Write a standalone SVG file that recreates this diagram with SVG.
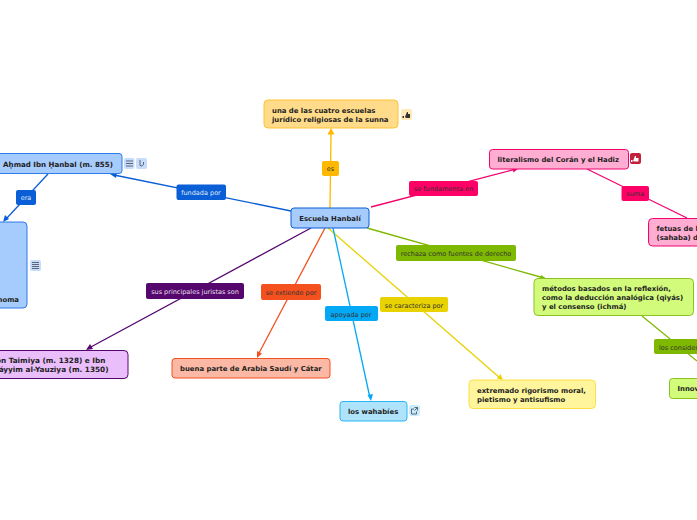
<svg xmlns="http://www.w3.org/2000/svg" width="697" height="520" viewBox="0 0 697 520">
<style>
text{font-family:"DejaVu Sans",Verdana,sans-serif}
.n{font-size:6.9px;font-weight:bold;fill:#222}
.j{font-size:7.3px}
.l{font-size:6.5px;fill:#333}
.w{fill:#fff;opacity:.85}
.c{fill:none;stroke-width:1.3}
.b{stroke-width:1}
.i{fill:none;stroke:#445;stroke-width:.8}
</style>
<rect width="697" height="520" fill="#fff"/>
<g id="connectors">
<path class="c" stroke="#FFB800" d="M330 208L331 132"/><path fill="#FFB800" d="M331 128l3.500 6.500h-7z"/>
<path class="c" stroke="#0B5FD6" d="M291 211L114 175"/><path fill="#0B5FD6" d="M110 174l7-2-1 6z"/>
<path class="c" stroke="#0B5FD6" d="M48 174L6 219"/><path fill="#0B5FD6" d="M3 222l2-7 4 4z"/>
<path class="c" stroke="#F0056E" d="M371 207L516 169"/><path fill="#F0056E" d="M519 168l-7-1 1.500 5.500z"/>
<path class="c" stroke="#F0056E" d="M587 169L687 218"/>
<path class="c" stroke="#7FB800" d="M367 228L544 278"/><path fill="#7FB800" d="M547 279l-6-4-1.500 5.500z"/>
<path class="c" stroke="#7FB800" d="M642 316L697 361"/>
<path class="c" stroke="#E8D200" d="M328 228L500 378"/><path fill="#E8D200" d="M503 380l-6-1.500 3.500-4.500z"/>
<path class="c" stroke="#03A9F4" d="M333 228L370 398"/><path fill="#03A9F4" d="M371 401l-3.500-6 5.500-1z"/>
<path class="c" stroke="#F4511E" d="M325 228L258 355"/><path fill="#F4511E" d="M257 358l0-7 5 2.500z"/>
<path class="c" stroke="#55076E" d="M311 228L89 348"/><path fill="#55076E" d="M86 350l4-6 3 5z"/>
</g>
<g id="root"><rect class="b" x="291" y="208" width="78" height="20" rx="3" fill="#A6CBFD" stroke="#0B5FD6"/><text class="n" x="330" y="220.500" text-anchor="middle">Escuela Hanbalí</text></g>
<g id="sunna"><rect class="b" x="264" y="100" width="134" height="28" rx="4" fill="#FFDB8A" stroke="#FFC233"/><text class="n" x="272" y="112.500">una de las cuatro escuelas</text><text class="n" x="272" y="122">jurídico religiosas de la sunna</text>
<rect x="401" y="109" width="11" height="11" rx="2" fill="#FFE9B5"/><path fill="#333" d="M405 117l2-5 1 0 0 2 2 0 0 4-4 0zM402.500 116l1.500 0 0 2-1.500 0z"/></g>
<g id="ahmad"><rect class="b" x="-20" y="153.500" width="142" height="20" rx="3" fill="#A6CBFD" stroke="#2F7BE8"/><text class="n" x="113" y="167" text-anchor="end" style="font-size:7.1px">Aḥmad Ibn Ḥanbal (m. 855)</text>
<rect x="124" y="158" width="10.500" height="11" rx="2" fill="#C6DCFB"/><path class="i" d="M126 161h7M126 163.500h7M126 166h7"/>
<rect x="136" y="158" width="11" height="11" rx="2" fill="#C6DCFB"/><path class="i" d="M140 160v5.500q2 1.500 3.500-1v-2.500"/></g>
<g id="mahoma"><rect class="b" x="-20" y="222" width="47" height="86" rx="4" fill="#A6CBFD" stroke="#2F7BE8"/><text class="n" x="19" y="301.500" text-anchor="end">noma</text>
<rect x="30" y="260" width="11" height="11" rx="2" fill="#C6DCFB"/><path class="i" d="M32 262.500h7M32 264.500h7M32 266.500h7M32 268.500h7"/></g>
<g id="juristas"><rect class="b" x="-40" y="350.500" width="168" height="28" rx="4" fill="#EABDFB" stroke="#55076E"/><text class="n j" x="105.500" y="363" text-anchor="end">Ibn Taimiya (m. 1328) e Ibn</text><text class="n j" x="108.500" y="372" text-anchor="end">Qáyyim al-Yauziya (m. 1350)</text></g>
<g id="arabia"><rect class="b" x="172" y="358.500" width="158" height="19.500" rx="3" fill="#FBB9A5" stroke="#F4511E"/><text class="n" x="180" y="371">buena parte de Arabia Saudí y Cátar</text></g>
<g id="wahabies"><rect class="b" x="340" y="401.500" width="67" height="19.500" rx="3" fill="#AEE3FB" stroke="#2BB5F5"/><text class="n" x="348" y="414">los wahabíes</text>
<rect x="409" y="405" width="11" height="11" rx="2" fill="#C9ECFC"/><path class="i" d="M416.500 411.500v2.500h-5v-5h2.500M414.500 407.500h3v3M417.500 407.500l-3 3"/></g>
<g id="rigorismo"><rect class="b" x="469" y="380" width="126.500" height="28.500" rx="4" fill="#FFF59D" stroke="#FDE047"/><text class="n" x="477" y="392.500">extremado rigorismo moral,</text><text class="n" x="477" y="401.500">pietismo y antisufismo</text></g>
<g id="metodos"><rect class="b" x="534" y="278.500" width="159.500" height="37" rx="4" fill="#D2FB7C" stroke="#8CC21F"/><text class="n" x="542" y="291">métodos basados en la reflexión,</text><text class="n" x="542" y="300">como la deducción analógica (qiyás)</text><text class="n" x="542" y="309">y el consenso (ichmá)</text></g>
<g id="innov"><rect class="b" x="669.500" y="378.500" width="60" height="20" rx="3" fill="#D2FB7C" stroke="#8CC21F"/><text class="n" x="677.500" y="391">Innovaciones</text></g>
<g id="literalismo"><rect class="b" x="489.500" y="149.500" width="139" height="19.500" rx="3" fill="#FFADD2" stroke="#F0056E"/><text class="n" x="497.500" y="162">literalismo del Corán y el Hadiz</text>
<rect x="630" y="153" width="11" height="11" rx="2" fill="#C2213A"/><path fill="#fff" d="M633 161l2-5 1 0 0 2 2.500 0 0 3.500-4 0zM631 160l1.500 0 0 2-1.500 0z"/></g>
<g id="fetuas"><rect class="b" x="648.500" y="218.500" width="90" height="27.500" rx="4" fill="#FFADD2" stroke="#F0056E"/><text class="n" x="656.500" y="231">fetuas de los compañeros</text><text class="n" x="656.500" y="240">(sahaba) de Mahoma</text></g>
<g id="label-es"><rect x="322" y="161" width="17" height="15" rx="2" fill="#FFB800"/><text class="l" x="330.500" y="171" text-anchor="middle">es</text></g>
<g id="label-fundada"><rect x="176.500" y="184.500" width="49.500" height="15.500" rx="2" fill="#0B5FD6"/><text class="l w" x="201" y="195" text-anchor="middle">fundada por</text></g>
<g id="label-era"><rect x="16" y="190" width="20" height="15" rx="2" fill="#0B5FD6"/><text class="l w" x="26" y="200" text-anchor="middle">era</text></g>
<g id="label-fundamenta"><rect x="409" y="181" width="69" height="15" rx="2" fill="#FF0066"/><text class="l" x="443.500" y="191" text-anchor="middle">se fundamenta en</text></g>
<g id="label-suma"><rect x="621.500" y="186" width="27.500" height="15" rx="2" fill="#FF0066"/><text class="l" x="635" y="196" text-anchor="middle">suma</text></g>
<g id="label-rechaza"><rect x="396" y="245" width="120" height="16" rx="2" fill="#7FB800"/><text class="l" x="456" y="255.500" text-anchor="middle">rechaza como fuentes de derecho</text></g>
<g id="label-considera"><rect x="654" y="339" width="60" height="15" rx="2" fill="#7FB800"/><text class="l" x="659" y="349.500">los considera</text></g>
<g id="label-caracteriza"><rect x="380" y="297" width="68" height="15" rx="2" fill="#E8D200"/><text class="l" x="414" y="307.500" text-anchor="middle">se caracteriza por</text></g>
<g id="label-apoyada"><rect x="325" y="306" width="53" height="15" rx="2" fill="#03A9F4"/><text class="l" x="351" y="316.500" text-anchor="middle">apoyada por</text></g>
<g id="label-extiende"><rect x="261" y="284" width="60" height="16" rx="2" fill="#F4511E"/><text class="l" x="291" y="295" text-anchor="middle">se extiende por</text></g>
<g id="label-juristas"><rect x="146" y="283" width="98" height="16" rx="2" fill="#55076E"/><text class="l w" x="195" y="293.500" text-anchor="middle">sus principales juristas son</text></g>
</svg>
